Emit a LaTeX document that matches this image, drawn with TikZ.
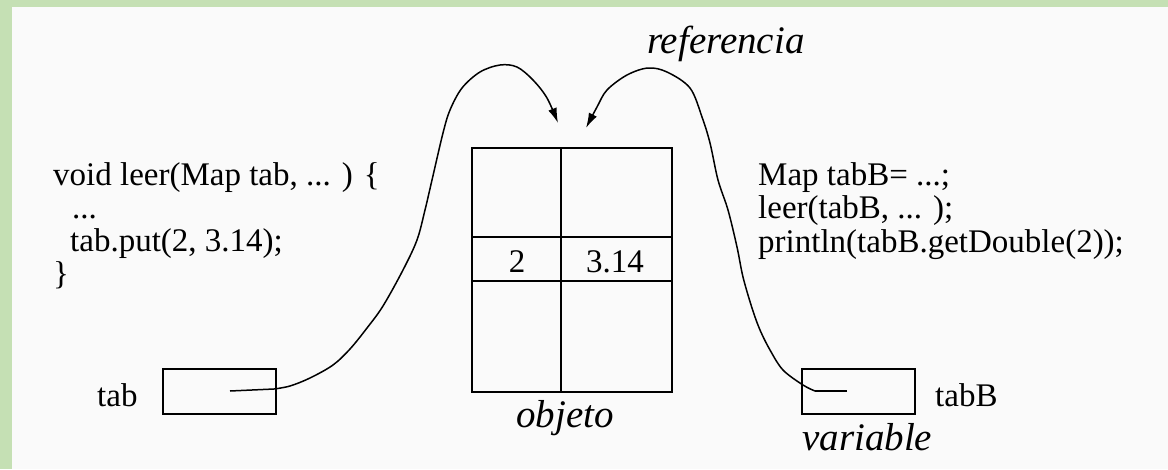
\documentclass[tikz,border=0pt]{standalone}
\usepackage{fontspec}
\setmainfont{Liberation Serif}
\newfontfamily\codefont{Liberation Serif}
\usetikzlibrary{arrows.meta}
\definecolor{frame}{RGB}{197,224,180}
\definecolor{paper}{RGB}{250,250,250}
\begin{document}
\begin{tikzpicture}[x=1pt,y=-1pt,
  code/.style={anchor=base west, inner sep=0pt, font=\codefont\fontsize{33}{33}\selectfont},
  lbl/.style={anchor=base west, inner sep=0pt, font=\codefont\fontsize{39}{39}\selectfont\itshape},
  grid/.style={line width=1.8pt},
  varbox/.style={draw, line width=1.8pt, minimum width=113pt, minimum height=45pt, inner sep=0pt},
  ptr/.style={line width=1.5pt},
  ref/.style={line width=1.5pt, -{Latex[length=15pt,width=9pt]}}]

% page with its green frame on the top and left
\fill[frame] (0,0) rectangle (1168,469);
\fill[paper] (12,7) rectangle (1168,469);
\useasboundingbox (0,0) rectangle (1168,469);

% method on the left
\node[code] (l1) at (53,185) {void leer(Map tab, ... )  \{};
\node[code] (l2) at (72,218) {...};
\node[code] (l3) at (70,251) {tab.put(2, 3.14);};
\node[code] (l4) at (53,284) {\}};

% caller on the right
\node[code] (r1) at (758,185) {Map tabB= ...;};
\node[code] (r2) at (758,218) {leer(tabB, ... );};
\node[code] (r3) at (758,252) {println(tabB.getDouble(2));};

% the map object
\node[draw, grid, minimum width=200pt, minimum height=244pt, inner sep=0pt] (obj) at (572,270) {};
\draw[grid] (561,148) -- (561,392);
\draw[grid] (472,237) -- (672,237);
\draw[grid] (472,281) -- (672,281);
\node[code, anchor=base] (k2) at (517,272) {2};
\node[code, anchor=base] (v314) at (615,272) {3.14};
\node[lbl, anchor=base] (objl) at (565,427) {objeto};

% the two variables
\node[varbox] (tabbox) at (219.5,391.5) {};
\node[code] (tabl) at (97,406) {tab};
\node[varbox] (tabBbox) at (858.5,391.5) {};
\node[code] (tabBl) at (935,406) {tabB};
\node[lbl] (varl) at (802,450) {variable};

\node[lbl] (refl) at (647,53) {referencia};

% references from the variables to the object
\coordinate (tabin) at (230,391);
\coordinate (tabout) at (274,389);
\coordinate (tipL) at (558,123);
\draw[ptr] (tabin) -- (tabout);
\draw[ref] plot[smooth, tension=0.55] coordinates {(tabout) (290,386) (310,378) (333,365) (350,349) (367,328) (383,306) (403,270) (417,240) (425,210) (432,180) (443,133) (450,110) (462,88) (480,72) (500,65) (517,67) (533,80) (547,98) (tipL)};

\coordinate (tabBin) at (847,391);
\coordinate (tabBout) at (815,391);
\coordinate (tipR) at (586,128);
\draw[ptr] (tabBin) -- (tabBout);
\draw[ref] plot[smooth, tension=0.55] coordinates {(tabBout) (803,385) (783,370) (770,350) (760,330) (752,308) (743,277) (737,247) (728,210) (718,180) (710,143) (702,117) (690,88) (667,72) (648,68) (627,75) (607,90) (597,107) (tipR)};
\end{tikzpicture}
\end{document}
